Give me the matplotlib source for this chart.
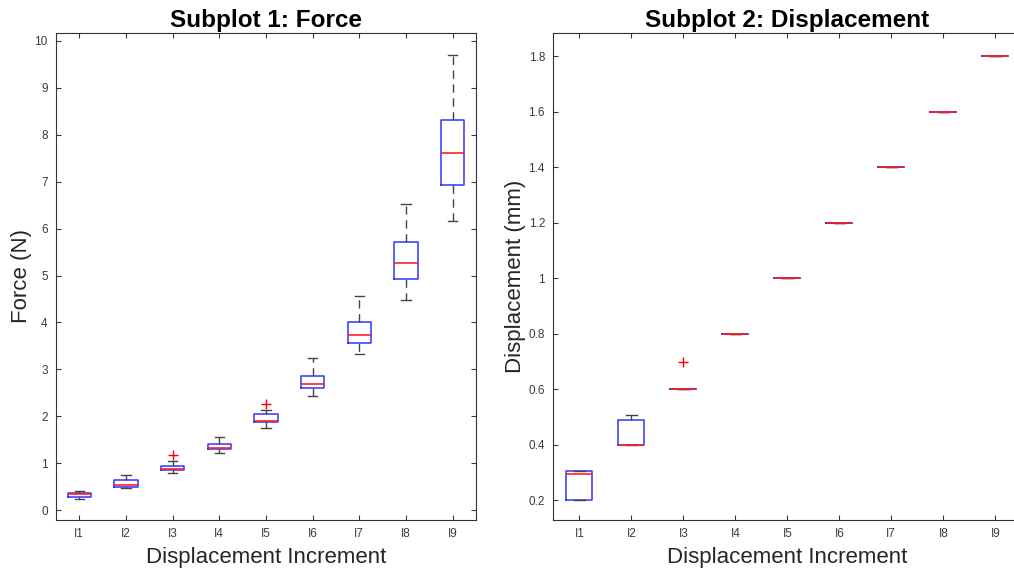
import matplotlib.pyplot as plt

plt.rcParams['font.family'] = ['Liberation Sans', 'DejaVu Sans']

labels = ['I1', 'I2', 'I3', 'I4', 'I5', 'I6', 'I7', 'I8', 'I9']

# Force (N) box statistics per displacement increment
force_whislo = [0.23, 0.47, 0.80, 1.22, 1.76, 2.43, 3.32, 4.48, 6.17]
force_q1 = [0.27, 0.50, 0.85, 1.30, 1.88, 2.61, 3.56, 4.93, 6.93]
force_med = [0.35, 0.53, 0.87, 1.32, 1.90, 2.68, 3.74, 5.26, 7.62]
force_q3 = [0.37, 0.64, 0.94, 1.40, 2.04, 2.86, 4.02, 5.72, 8.32]
force_whishi = [0.41, 0.74, 1.05, 1.56, 2.13, 3.24, 4.56, 6.52, 9.70]
force_fliers = [[], [], [1.17], [], [2.27], [], [], [], []]

# Displacement (mm) box statistics
disp_whislo = [0.20, 0.40, 0.60, 0.80, 1.00, 1.20, 1.40, 1.60, 1.80]
disp_q1 = [0.20, 0.40, 0.60, 0.80, 1.00, 1.20, 1.40, 1.60, 1.80]
disp_med = [0.295, 0.40, 0.60, 0.80, 1.00, 1.20, 1.40, 1.60, 1.80]
disp_q3 = [0.306, 0.488, 0.60, 0.80, 1.00, 1.20, 1.40, 1.60, 1.80]
disp_whishi = [0.306, 0.505, 0.60, 0.80, 1.00, 1.20, 1.40, 1.60, 1.80]
disp_fliers = [[], [], [0.696], [], [], [], [], [], []]


def make_stats(lo, q1, med, q3, hi, fl):
    return [dict(whislo=a, q1=b, med=c, q3=d, whishi=e, fliers=f, label=l)
            for a, b, c, d, e, f, l in zip(lo, q1, med, q3, hi, fl, labels)]


def draw(ax, stats, title, ylabel, ylim, yticks, yticklabels):
    ax.bxp(stats, positions=range(1, 10), widths=0.5, capwidths=0.2,
           boxprops=dict(color='#3333ff', linewidth=1.1),
           medianprops=dict(color='#ff2020', linewidth=1.2, zorder=3),
           whiskerprops=dict(color='#444444', linewidth=1.0, linestyle=(0, (6, 4))),
           capprops=dict(color='#444444', linewidth=1.0),
           flierprops=dict(marker='+', markeredgecolor='red', markersize=7,
                           linestyle='none'))
    ax.set_xlim(0.5, 9.5)
    ax.set_ylim(*ylim)
    ax.set_yticks(yticks)
    ax.set_yticklabels(yticklabels)
    ax.set_xticks(range(1, 10))
    ax.set_xticklabels(labels)
    ax.set_title(title, fontsize=17.5, fontweight='bold', pad=4)
    ax.set_xlabel('Displacement Increment', fontsize=16, color='#262626', labelpad=5)
    ax.set_ylabel(ylabel, fontsize=16, color='#262626', labelpad=2)
    ax.tick_params(direction='in', top=True, right=True, length=3.5,
                   labelsize=8.5, colors='#3a3a3a', width=0.8, pad=6)
    for s in ax.spines.values():
        s.set_color('#333333')
        s.set_linewidth(0.8)


fig = plt.figure(figsize=(10.14, 5.74), dpi=100)
ax1 = fig.add_axes([0.0552, 0.0941, 0.4142, 0.8484])
ax2 = fig.add_axes([0.5457, 0.0941, 0.4615, 0.8484])

draw(ax1, make_stats(force_whislo, force_q1, force_med, force_q3, force_whishi, force_fliers),
     'Subplot 1: Force', 'Force (N)', (-0.21, 10.17), range(0, 11),
     [str(i) for i in range(0, 11)])

disp_ticks = [0.2, 0.4, 0.6, 0.8, 1.0, 1.2, 1.4, 1.6, 1.8]
draw(ax2, make_stats(disp_whislo, disp_q1, disp_med, disp_q3, disp_whishi, disp_fliers),
     'Subplot 2: Displacement', 'Displacement (mm)', (0.128, 1.883), disp_ticks,
     ['0.2', '0.4', '0.6', '0.8', '1', '1.2', '1.4', '1.6', '1.8'])

fig.savefig('out.png', dpi=100)
